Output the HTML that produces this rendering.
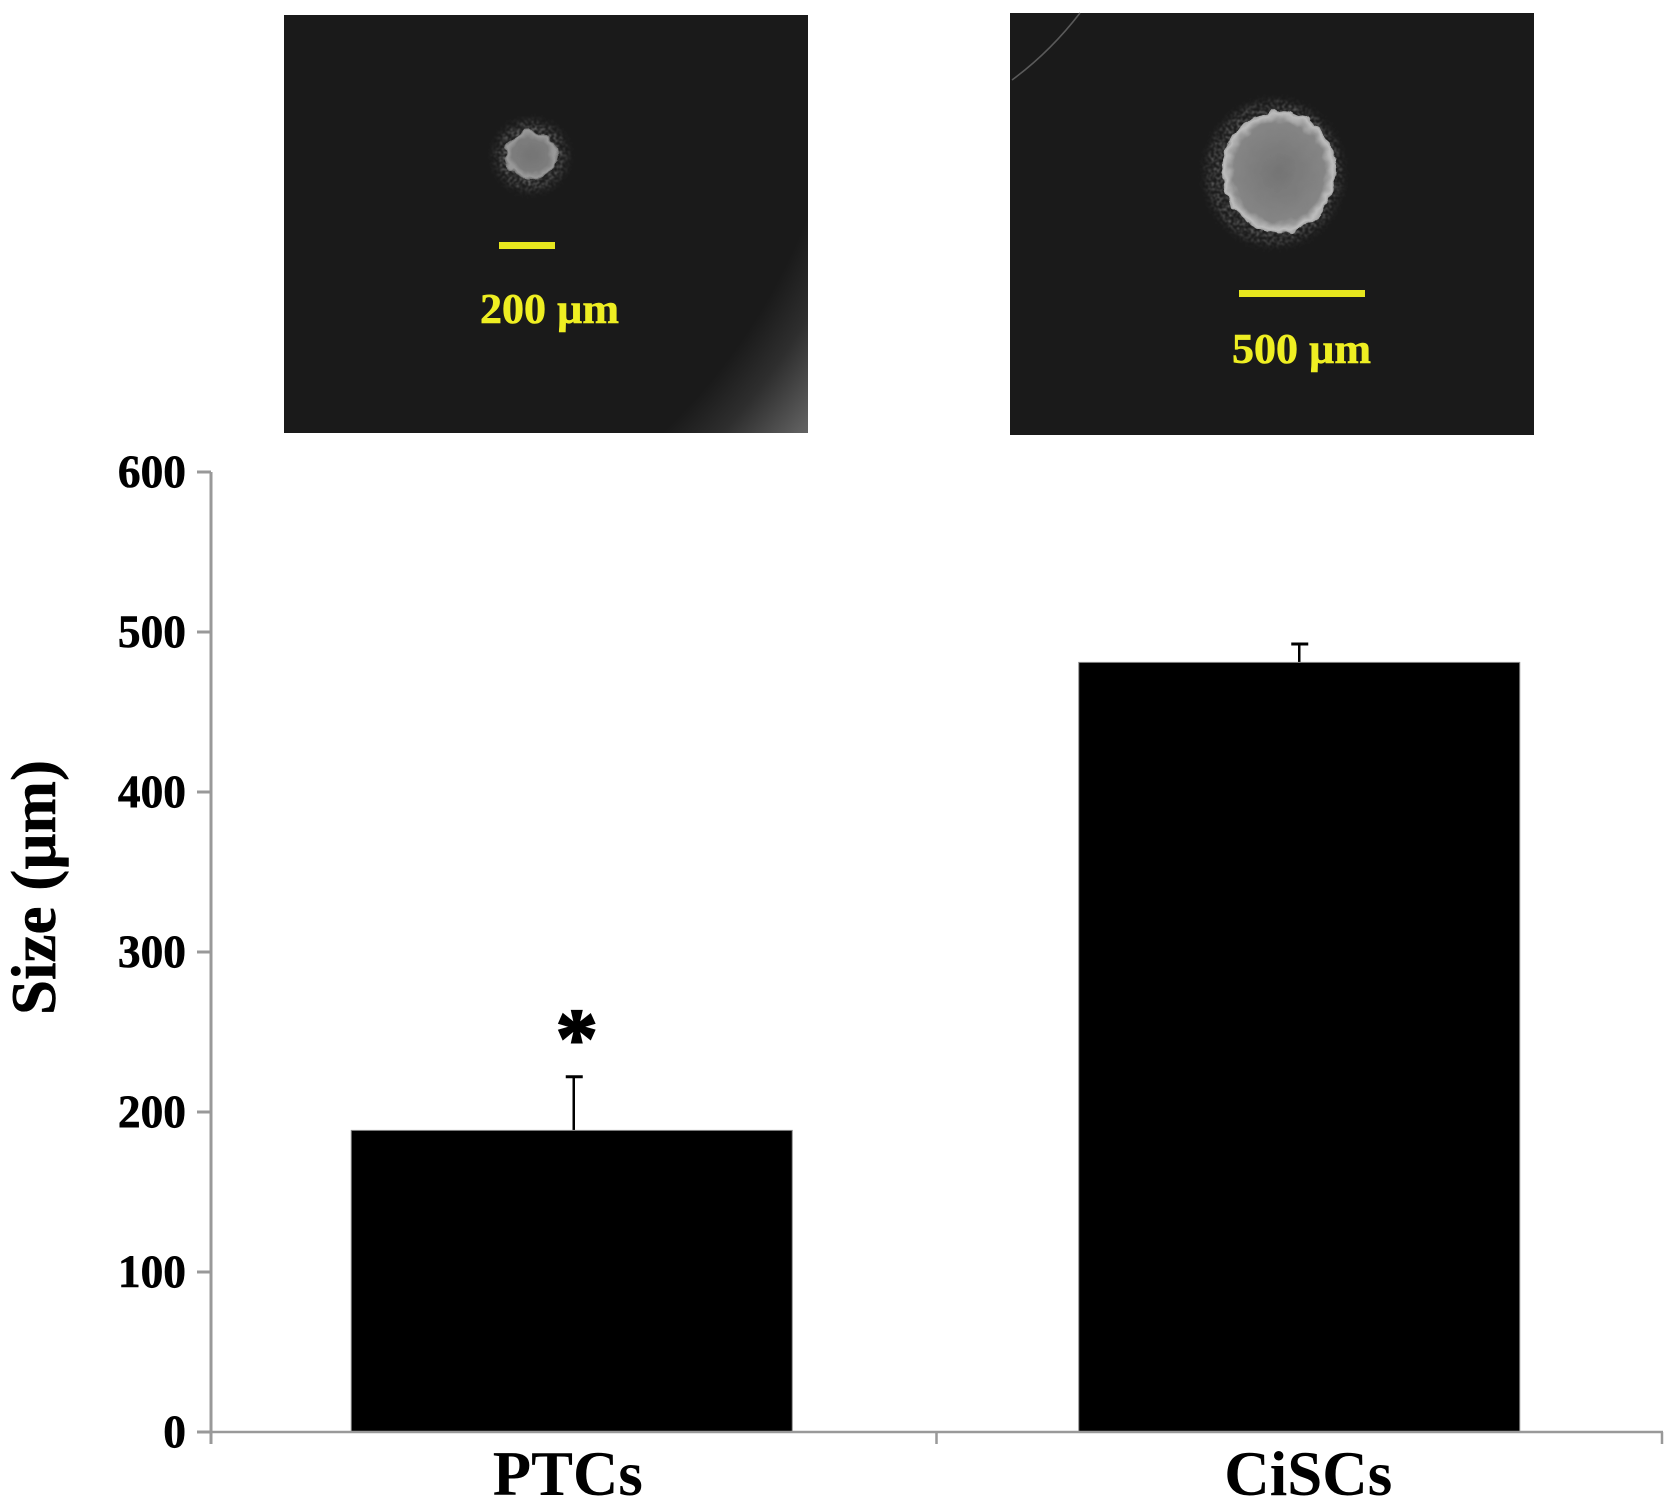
<!DOCTYPE html>
<html lang="en">
<head>
<meta charset="utf-8">
<title>Sphere size: PTCs vs CiSCs</title>
<style>
  html, body { margin: 0; padding: 0; background: #fff; }
  svg { display: block; }
  text { font-family: "Liberation Serif", serif; font-weight: bold; fill: #000; }
</style>
</head>
<body>
<svg id="figure" xmlns="http://www.w3.org/2000/svg" width="1677" height="1507" viewBox="0 0 1677 1507">
  <defs>
    <radialGradient id="glow" gradientUnits="userSpaceOnUse" cx="250" cy="0" r="720">
      <stop offset="0" stop-color="#1a1a1a"/>
      <stop offset="0.83" stop-color="#1a1a1a"/>
      <stop offset="0.89" stop-color="#2e2e2e"/>
      <stop offset="0.97" stop-color="#5e5e5e"/>
      <stop offset="1" stop-color="#6a6a6a"/>
    </radialGradient>
    <radialGradient id="coreSmall" cx="50%" cy="50%" r="50%">
      <stop offset="0" stop-color="#757575"/>
      <stop offset="0.7" stop-color="#7c7c7c"/>
      <stop offset="0.92" stop-color="#9a9a9a"/>
      <stop offset="1" stop-color="#6c6c6c"/>
    </radialGradient>
    <radialGradient id="coreLarge" cx="50%" cy="50%" r="50%">
      <stop offset="0" stop-color="#747474"/>
      <stop offset="0.8" stop-color="#858585"/>
      <stop offset="0.95" stop-color="#bdbdbd"/>
      <stop offset="1" stop-color="#a0a0a0"/>
    </radialGradient>
    <filter id="rough" x="-30%" y="-30%" width="160%" height="160%">
      <feTurbulence type="fractalNoise" baseFrequency="0.09" numOctaves="2" seed="4" result="n"/>
      <feDisplacementMap in="SourceGraphic" in2="n" scale="9" xChannelSelector="R" yChannelSelector="G"/>
    </filter>
    <filter id="speckle" x="-30%" y="-30%" width="160%" height="160%">
      <feGaussianBlur in="SourceGraphic" stdDeviation="4" result="soft"/>
      <feTurbulence type="fractalNoise" baseFrequency="0.35" numOctaves="2" seed="7" result="n"/>
      <feColorMatrix in="n" type="matrix" values="0 0 0 0 1  0 0 0 0 1  0 0 0 0 1  2.6 0 0 0 -1.1" result="dots"/>
      <feComposite in="soft" in2="dots" operator="in"/>
      <feGaussianBlur stdDeviation="0.7"/>
    </filter>
  </defs>

  <g id="panel-ptc">
    <rect x="284" y="15" width="524" height="418" fill="url(#glow)"/>
    <ellipse cx="531" cy="156" rx="36" ry="35" fill="#7a7a7a" filter="url(#speckle)"/>
    <ellipse cx="531" cy="155" rx="26" ry="24" fill="url(#coreSmall)" filter="url(#rough)"/>
    <rect x="499" y="242" width="56" height="7" fill="#e6e61e"/>
    <text x="480" y="323" font-size="42" textLength="139" lengthAdjust="spacingAndGlyphs" style="fill:#eeee22;stroke:#eeee22;stroke-width:.6">200 µm</text>
  </g>

  <g id="panel-cisc">
    <rect x="1010" y="13" width="524" height="422" fill="#1a1a1a"/>
    <path d="M1080 13 Q1050 52 1012 80" fill="none" stroke="#5a5a5a" stroke-width="1.6"/>
    <ellipse cx="1274" cy="173" rx="68" ry="72" fill="#6e6e6e" filter="url(#speckle)"/>
    <ellipse cx="1279" cy="172" rx="57" ry="61" fill="url(#coreLarge)" filter="url(#rough)"/>
    <rect x="1239" y="290" width="126" height="7" fill="#e6e61e"/>
    <text x="1232" y="363" font-size="42" textLength="139" lengthAdjust="spacingAndGlyphs" style="fill:#eeee22;stroke:#eeee22;stroke-width:.6">500 µm</text>
  </g>

  <g id="chart"></g>
</svg>

<script>
const categories = ['PTCs', 'CiSCs'];
const sizeValues = [188.5, 481];
const errorValues = [33.5, 11.5];
const yTickLabels = [0, 100, 200, 300, 400, 500, 600];
const yAxisTitle = 'Size (µm)';
const significanceMarks = ['*', ''];

const NS = 'http://www.w3.org/2000/svg';
const chart = document.getElementById('chart');
const plot = { left: 211, right: 1662, top: 472, bottom: 1432, yMax: 600 };
const AXIS_COLOR = '#999';

function yScale(v) {
  return plot.bottom - (v / plot.yMax) * (plot.bottom - plot.top);
}
function xBand(i) {
  return plot.left + (plot.right - plot.left) * i / categories.length;
}
function xCenter(i) {
  return xBand(i + 0.5);
}
function make(tag, attrs) {
  const el = document.createElementNS(NS, tag);
  for (const k in attrs) el.setAttribute(k, attrs[k]);
  chart.appendChild(el);
  return el;
}

// Bars and error bars
const BAR_WIDTH = 441;
sizeValues.forEach(function (v, i) {
  const cx = xCenter(i);
  const barCx = cx + (i === 0 ? -2 : 0);
  const labelCx = cx + (i === 0 ? -6 : 9);
  const labelWidth = categories[i].length === 4 ? 150 : 168;
  const err = errorValues[i];
  const barTop = yScale(v);
  const errTop = yScale(v + err);

  const stem = make('line', { x1: cx, x2: cx, y1: errTop, y2: barTop, stroke: '#000', 'stroke-width': 2.5 });
  
  

  const cap = make('line', { x1: cx - 8, x2: cx + 9, y1: errTop, y2: errTop, stroke: '#000', 'stroke-width': 3 });
  
  

  const bar = make('rect', { x: barCx - BAR_WIDTH / 2, y: barTop, width: BAR_WIDTH, height: plot.bottom - barTop, fill: '#000', stroke: '#8a8a8a', 'stroke-width': 1 });
  
  

  const label = make('text', { x: labelCx, y: 1495, 'font-size': 64, 'text-anchor': 'middle', textLength: labelWidth, lengthAdjust: 'spacingAndGlyphs' });
  label.textContent = categories[i];
  
  

  if (significanceMarks[i]) {
    const mark = make('text', { x: cx + 3, y: errTop - 11, 'font-size': 84, 'text-anchor': 'middle', stroke: '#000', 'stroke-width': 2 });
    mark.textContent = significanceMarks[i];
    
    
  }
});

// Y axis
const yAxis = make('line', { x1: plot.left, x2: plot.left, y1: yScale(plot.yMax), y2: plot.bottom + 12, stroke: AXIS_COLOR, 'stroke-width': 3 });



yTickLabels.forEach(function (t) {
  const y = yScale(t);
  const tick = make('line', { x1: plot.left - 14, x2: plot.left, y1: y, y2: y, stroke: AXIS_COLOR, 'stroke-width': 3 });
  
  

  const text = String(t);
  const lab = make('text', { x: 186, y: y + 15, 'font-size': 47, 'text-anchor': 'end', textLength: text.length * 22.7, lengthAdjust: 'spacingAndGlyphs', stroke: '#000', 'stroke-width': 0.6 });
  lab.textContent = text;
  
  
});

// X axis
const xAxis = make('line', { x1: plot.left - 14, x2: plot.right + 1, y1: plot.bottom, y2: plot.bottom, stroke: AXIS_COLOR, 'stroke-width': 2.5 });



for (let i = 0; i <= categories.length; i++) {
  const tx = xBand(i);
  const xTick = make('line', { x1: tx, x2: tx, y1: plot.bottom, y2: plot.bottom + 12, stroke: AXIS_COLOR, 'stroke-width': 2.5 });
  
  
}

// Axis title
const title = make('text', { transform: 'translate(55 1015) rotate(-90)', x: 0, y: 0, 'font-size': 63, stroke: '#000', 'stroke-width': 0.5 });
title.textContent = yAxisTitle;


</script>
</body>
</html>
